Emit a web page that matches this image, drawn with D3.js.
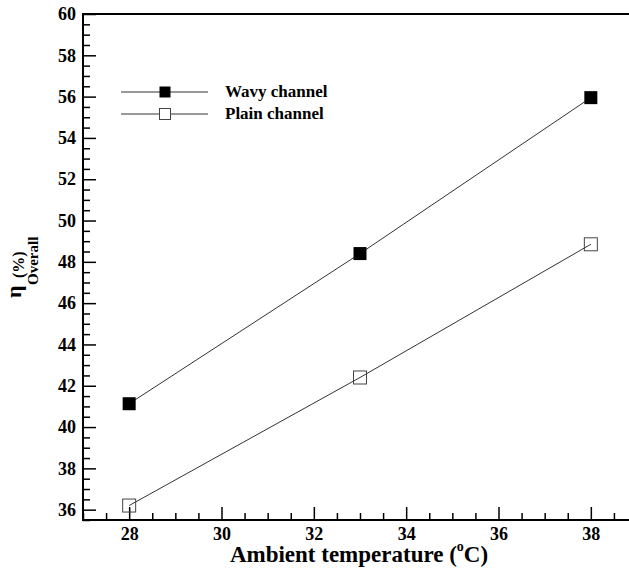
<!DOCTYPE html>
<html>
<head>
<meta charset="utf-8">
<script src="https://cdn.jsdelivr.net/npm/d3@7"></script>
<style>
  body { margin: 0; background: #fff; }
  svg { display: block; }
  text { font-family: "Liberation Serif", "Times New Roman", serif; font-weight: bold; }
</style>
</head>
<body>
<script>
// data
var temps = [28, 33, 38];
var wavy = [41.13, 48.4, 55.95];
var plain = [36.2, 42.4, 48.85];
var seriesNames = ["Wavy channel", "Plain channel"];
var xTicks = [28, 30, 32, 34, 36, 38];
var yTicks = [36, 38, 40, 42, 44, 46, 48, 50, 52, 54, 56, 58, 60];

var w = 629, h = 569;
// plot box (the right edge lies outside the picture)
var pLeft = 83, pTop = 14, pRight = 637, pBottom = 520;

var svg = d3.select("body").append("svg")
    .attr("width", w)
    .attr("height", h);

var x = d3.scaleLinear().domain([27, 39]).range([pLeft, pRight]);
var y = d3.scaleLinear().domain([35.5, 60]).range([pBottom, pTop]);

// minor ticks every 0.5
var xMinor = d3.range(27, 39.01, 0.5).filter(function (d) { return xTicks.indexOf(d) < 0; });
var yMinor = d3.range(35.5, 60.01, 0.5).filter(function (d) { return yTicks.indexOf(d) < 0; });

svg.append("g")
    .attr("transform", "translate(0," + pBottom + ")")
    .call(d3.axisBottom(x).tickValues(xMinor).tickSize(-7).tickFormat(""))
    .call(function (g) { g.select(".domain").remove(); });
svg.append("g")
    .attr("transform", "translate(" + pLeft + ",0)")
    .call(d3.axisLeft(y).tickValues(yMinor).tickSize(-7).tickFormat(""))
    .call(function (g) { g.select(".domain").remove(); });

var xAxis = svg.append("g")
    .attr("transform", "translate(0," + pBottom + ")")
    .call(d3.axisBottom(x).tickValues(xTicks).tickSize(-13).tickPadding(7).tickFormat(d3.format("d")));
var yAxis = svg.append("g")
    .attr("transform", "translate(" + pLeft + ",0)")
    .call(d3.axisLeft(y).tickValues(yTicks).tickSize(-13).tickPadding(7).tickFormat(d3.format("d")));

[xAxis, yAxis].forEach(function (g) {
    g.select(".domain").remove();
    g.selectAll("text").attr("font-size", 18).attr("fill", "#000");
});
svg.selectAll(".tick line").attr("stroke", "#000").attr("stroke-width", 1.5);

// frame
svg.append("rect")
    .attr("x", pLeft).attr("y", pTop)
    .attr("width", pRight - pLeft).attr("height", pBottom - pTop)
    .attr("fill", "none").attr("stroke", "#000").attr("stroke-width", 2);

var line = d3.line()
    .x(function (d, i) { return x(temps[i]); })
    .y(function (d) { return y(d); });

[wavy, plain].forEach(function (s) {
    svg.append("path").datum(s)
        .attr("d", line)
        .attr("fill", "none")
        .attr("stroke", "#333")
        .attr("stroke-width", 1);
});

var ms = 13;
svg.selectAll("rect.wavy").data(wavy).enter().append("rect")
    .attr("class", "wavy")
    .attr("x", function (d, i) { return x(temps[i]) - ms / 2; })
    .attr("y", function (d) { return y(d) - ms / 2; })
    .attr("width", ms).attr("height", ms)
    .attr("fill", "#000");
svg.selectAll("rect.plain").data(plain).enter().append("rect")
    .attr("class", "plain")
    .attr("x", function (d, i) { return x(temps[i]) - ms / 2; })
    .attr("y", function (d) { return y(d) - ms / 2; })
    .attr("width", ms).attr("height", ms)
    .attr("fill", "none").attr("stroke", "#444").attr("stroke-width", 1);

// legend
var legend = svg.append("g");
seriesNames.forEach(function (name, i) {
    var ly = 92 + i * 22;
    legend.append("line")
        .attr("x1", 121).attr("x2", 208).attr("y1", ly).attr("y2", ly)
        .attr("stroke", "#333").attr("stroke-width", 1);
    legend.append("rect")
        .attr("x", 165 - 5.5).attr("y", ly - 5.5)
        .attr("width", 11).attr("height", 11)
        .attr("fill", i === 0 ? "#000" : "#fff")
        .attr("stroke", i === 0 ? "none" : "#444");
    legend.append("text")
        .attr("x", 225).attr("y", ly + 5)
        .attr("font-size", 17)
        .text(name);
});

// x axis title
var xt = svg.append("text")
    .attr("x", 359).attr("y", 562)
    .attr("text-anchor", "middle")
    .attr("font-size", 23);
xt.append("tspan").text("Ambient temperature (");
xt.append("tspan").attr("font-size", 14).attr("dy", -11).text("o");
xt.append("tspan").attr("dy", 11).text("C)");

// y axis title: eta with subscript Overall and superscript (%)
var yt = svg.append("g").attr("transform", "translate(0,298) rotate(-90)");
yt.append("text").attr("x", 0).attr("y", 21)
    .attr("font-size", 22).attr("font-weight", "normal").text("η");
yt.append("text").attr("x", 13).attr("y", 38)
    .attr("font-size", 15).text("Overall");
yt.append("text").attr("x", 20).attr("y", 24)
    .attr("font-size", 16).attr("font-weight", "normal").text("(%)");
</script>
</body>
</html>
